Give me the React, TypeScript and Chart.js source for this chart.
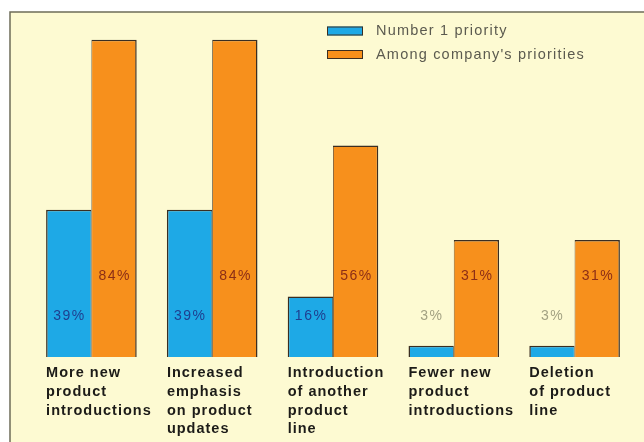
import { useEffect, useRef } from 'react';
import { Chart, registerables } from 'chart.js';

Chart.register(...registerables);

const categories: string[][] = [
  ['More new', 'product', 'introductions'],
  ['Increased', 'emphasis', 'on product', 'updates'],
  ['Introduction', 'of another', 'product', 'line'],
  ['Fewer new', 'product', 'introductions'],
  ['Deletion', 'of product', 'line'],
];
const seriesNames = ['Number 1 priority', "Among company's priorities"];
const numberOnePriority = [39, 39, 16, 3, 3];
const amongPriorities = [84, 84, 56, 31, 31];
const numberOneLabels = ['39%', '39%', '16%', '3%', '3%'];
const amongLabels = ['84%', '84%', '56%', '31%', '31%'];
// value level (in % units) at which the in-bar labels sit
const labelLevels = [10.8, 21.3];

const BLUE = '#1ea9e6';
const ORANGE = '#f7901c';
const OUTLINE = '#3a2e22';

const framePlugin = {
  id: 'frame',
  beforeDraw(chart: any) {
    const { ctx, width, height } = chart;
    ctx.save();
    ctx.fillStyle = '#ffffff';
    ctx.fillRect(0, 0, width, height);
    ctx.fillStyle = '#fdfad2';
    ctx.fillRect(10, 12, width - 10, height - 12);
    ctx.strokeStyle = '#6e6c58';
    ctx.lineWidth = 1.5;
    ctx.beginPath();
    ctx.moveTo(10, height);
    ctx.lineTo(10, 12);
    ctx.lineTo(width, 12);
    ctx.stroke();
    ctx.restore();
    try { ctx.letterSpacing = '1px'; } catch (e) {}
  },
};

const valueLabelPlugin = {
  id: 'valueLabels',
  afterDatasetsDraw(chart: any) {
    const { ctx } = chart;
    const yScale = chart.scales.y;
    const texts = [numberOneLabels, amongLabels];
    const values = [numberOnePriority, amongPriorities];
    ctx.save();
    try { ctx.letterSpacing = '1.5px'; } catch (e) {}
    ctx.font = '14px "Liberation Sans", Arial, sans-serif';
    ctx.textAlign = 'center';
    ctx.textBaseline = 'middle';
    for (let d = 0; d < 2; d++) {
      const meta = chart.getDatasetMeta(d);
      const y = yScale.getPixelForValue(labelLevels[d]);
      meta.data.forEach((el: any, i: number) => {
        const inside = values[d][i] > labelLevels[d] + 2;
        ctx.fillStyle = d === 0 ? (inside ? '#1f3f8f' : '#a3a283') : '#8c2e16';
        ctx.fillText(texts[d][i], el.x + 0.75, y);
      });
    }
    ctx.restore();
  },
};

const legendPlugin = {
  id: 'customLegend',
  afterDraw(chart: any) {
    const { ctx } = chart;
    const colors = [BLUE, ORANGE];
    ctx.save();
    try { ctx.letterSpacing = '1.2px'; } catch (e) {}
    ctx.font = '14.5px "Liberation Sans", Arial, sans-serif';
    ctx.textAlign = 'left';
    ctx.textBaseline = 'middle';
    seriesNames.forEach((name, i) => {
      const cy = 31 + i * 23.5;
      ctx.fillStyle = colors[i];
      ctx.fillRect(327, cy - 4.5, 36, 9);
      ctx.strokeStyle = OUTLINE;
      ctx.lineWidth = 1;
      ctx.strokeRect(327.5, cy - 4, 35, 8);
      ctx.fillStyle = '#5b5a4f';
      ctx.fillText(name, 376, cy);
    });
    ctx.restore();
  },
};

export default function App() {
  const ref = useRef<HTMLCanvasElement>(null);
  useEffect(() => {
    if (!ref.current) return;
    const chart = new Chart(ref.current, {
      type: 'bar',
      data: {
        labels: categories as any,
        datasets: [
          {
            label: seriesNames[0],
            data: numberOnePriority,
            backgroundColor: BLUE,
            borderColor: OUTLINE,
            borderWidth: { top: 1.5, left: 1.5, bottom: 1.5, right: 0.75 },
            barPercentage: 1,
            categoryPercentage: 0.75,
          },
          {
            label: seriesNames[1],
            data: amongPriorities,
            backgroundColor: ORANGE,
            borderColor: OUTLINE,
            borderWidth: { top: 1.5, left: 0.75, bottom: 1.5, right: 1.5 },
            barPercentage: 1,
            categoryPercentage: 0.75,
          },
        ],
      },
      options: {
        animation: false,
        responsive: true,
        maintainAspectRatio: false,
        layout: { padding: { left: 31, right: 9, top: 17, bottom: 0 } },
        plugins: {
          legend: { display: false },
          tooltip: { enabled: false },
        },
        scales: {
          x: {
            grid: { display: false, drawTicks: false },
            border: { display: false },
            afterFit: (scale: any) => {
              scale.height = 85;
              scale.paddingLeft = 0;
              scale.paddingRight = 0;
            },
            ticks: {
              autoSkip: false,
              maxRotation: 0,
              minRotation: 0,
              align: 'start',
              labelOffset: -45.3,
              padding: 7,
              color: '#1c1b18',
              font: { family: '"Liberation Sans", Arial, sans-serif', size: 14.5, weight: 'bold', lineHeight: 1.29 },
            },
          },
          y: {
            display: false,
            min: 0,
            max: 90,
          },
        },
      },
      plugins: [framePlugin, valueLabelPlugin, legendPlugin],
    });
    return () => chart.destroy();
  }, []);
  return (
    <div style={{ position: 'fixed', left: 0, top: 0, width: 644, height: 442 }}>
      <canvas ref={ref} />
    </div>
  );
}
